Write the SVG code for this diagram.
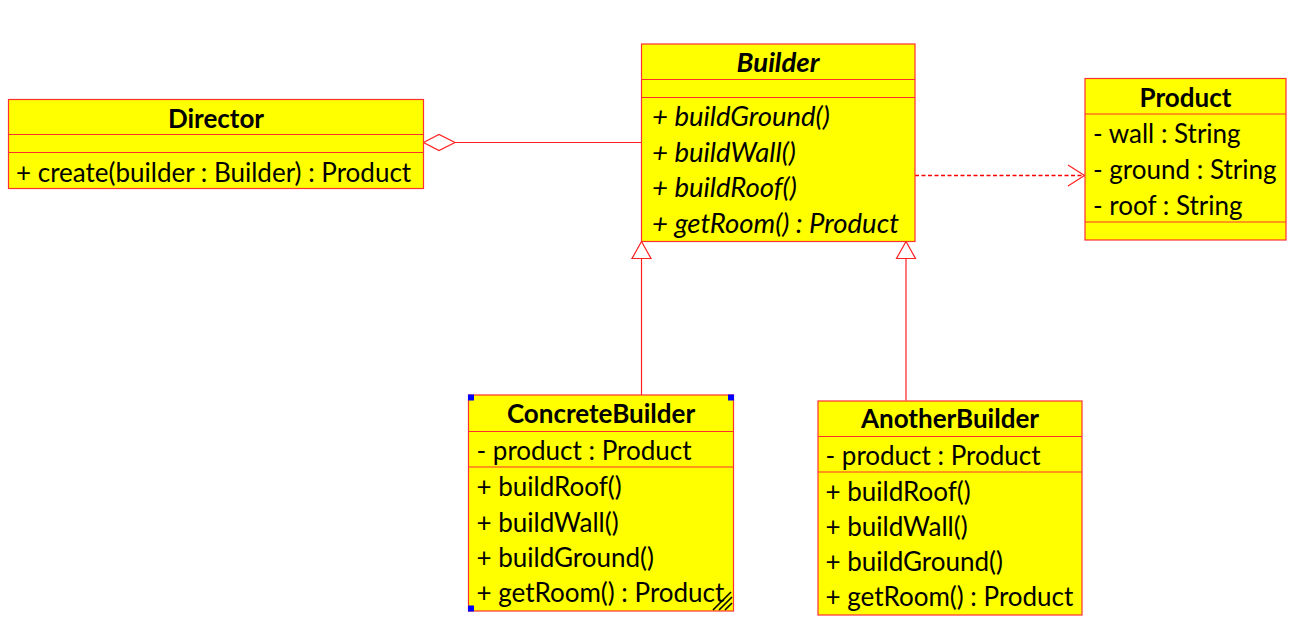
<svg xmlns="http://www.w3.org/2000/svg" width="1304" height="637" viewBox="0 0 1304 637">
<defs>
<style>
.box{fill:#ffff00;stroke:#ff3030;stroke-width:1.2}
.div{stroke:#ff3030;stroke-width:1.2}
.t{font-family:Lato,"Liberation Sans",sans-serif;font-size:26px;fill:#000}
.b{font-weight:bold;text-anchor:middle}
.i{font-style:italic;font-size:27.5px}
.con{stroke:#ff2020;stroke-width:1.2;fill:none}
.dash{stroke:#ff0000;stroke-width:1.3;stroke-dasharray:4,2.5}
.h{fill:#0000ff}
</style>
</defs>
<rect width="1304" height="637" fill="#ffffff"/>
<g id="connectors">
<line class="con" x1="455" y1="142.5" x2="641" y2="142.5"/>
<polygon class="con" points="423.5,142.5 439,134.5 455,142.5 439,150.5" fill="#fff"/>
<line class="con dash" x1="915" y1="175.5" x2="1084" y2="175.5"/>
<polyline class="con" points="1068,165 1084.5,175.5 1068,186"/>
<line class="con" x1="641.5" y1="258" x2="641.5" y2="395"/>
<polygon class="con" points="641.5,241.5 632,258.5 651,258.5" fill="#fff"/>
<line class="con" x1="906" y1="258" x2="906" y2="400.5"/>
<polygon class="con" points="906,241.5 896.5,258.5 915.5,258.5" fill="#fff"/>
</g>
<g id="Director">
<rect class="box" x="8.5" y="99.5" width="415" height="89"/>
<line class="div" x1="8.5" y1="134.5" x2="423.5" y2="134.5"/>
<line class="div" x1="8.5" y1="152.5" x2="423.5" y2="152.5"/>
<text class="t b" x="216" y="128">Director</text>
<text class="t" x="16" y="181.5">+ create(builder : Builder) : Product</text>
</g>
<g id="Builder">
<rect class="box" x="641.5" y="44" width="273.5" height="197.5"/>
<line class="div" x1="641.5" y1="79.5" x2="915" y2="79.5"/>
<line class="div" x1="641.5" y1="97.5" x2="915" y2="97.5"/>
<text class="t b i" x="778" y="71.5">Builder</text>
<text class="t i" x="652" y="125.5">+ buildGround()</text>
<text class="t i" x="652" y="161.5">+ buildWall()</text>
<text class="t i" x="652" y="197">+ buildRoof()</text>
<text class="t i" x="652" y="232.5">+ getRoom() : Product</text>
</g>
<g id="Product">
<rect class="box" x="1085" y="78.5" width="201" height="161.5"/>
<line class="div" x1="1085" y1="114" x2="1286" y2="114"/>
<line class="div" x1="1085" y1="222" x2="1286" y2="222"/>
<text class="t b" x="1185.5" y="106.5">Product</text>
<text class="t" x="1093" y="143">- wall : String</text>
<text class="t" x="1093" y="179">- ground : String</text>
<text class="t" x="1093" y="214.5">- roof : String</text>
</g>
<g id="ConcreteBuilder">
<rect class="box" x="468.5" y="395" width="265" height="216"/>
<line class="div" x1="468.5" y1="431.5" x2="733.5" y2="431.5"/>
<line class="div" x1="468.5" y1="467" x2="733.5" y2="467"/>
<text class="t b" x="601" y="423">ConcreteBuilder</text>
<text class="t" x="476.5" y="459.5">- product : Product</text>
<text class="t" x="476.5" y="495.5">+ buildRoof()</text>
<text class="t" x="476.5" y="531.5">+ buildWall()</text>
<text class="t" x="476.5" y="567">+ buildGround()</text>
<text class="t" x="476.5" y="602">+ getRoom() : Product</text>
<rect class="h" x="468" y="394.5" width="6" height="6"/>
<rect class="h" x="728" y="394.5" width="6" height="6"/>
<rect class="h" x="468" y="605.5" width="6" height="6"/>
<path d="M713,610 L731,592 M719,610 L732,597 M725,610 L732,603" stroke="#000" stroke-width="1.6" fill="none"/>
</g>
<g id="AnotherBuilder">
<rect class="box" x="818" y="401" width="264" height="214"/>
<line class="div" x1="818" y1="436.5" x2="1082" y2="436.5"/>
<line class="div" x1="818" y1="472" x2="1082" y2="472"/>
<text class="t b" x="950" y="428">AnotherBuilder</text>
<text class="t" x="825.5" y="464.5">- product : Product</text>
<text class="t" x="825.5" y="500.5">+ buildRoof()</text>
<text class="t" x="825.5" y="536">+ buildWall()</text>
<text class="t" x="825.5" y="570.5">+ buildGround()</text>
<text class="t" x="825.5" y="605.5">+ getRoom() : Product</text>
</g>
</svg>
